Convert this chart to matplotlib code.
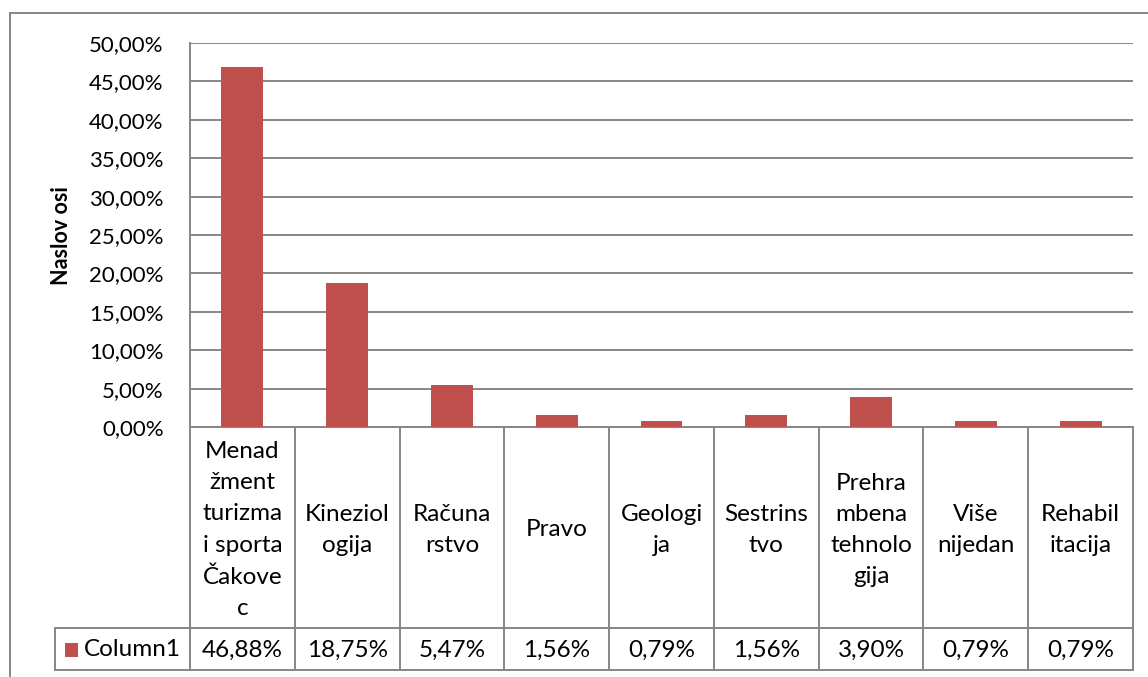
import matplotlib
matplotlib.use("Agg")
import matplotlib.pyplot as plt
from matplotlib.patches import Rectangle
from matplotlib.ticker import FuncFormatter
from matplotlib.transforms import blended_transform_factory

plt.rcParams['font.family'] = ['Lato', 'DejaVu Sans']

# data
categories = ["Menad\nžment\nturizma\ni sporta\nČakove\nc", "Kineziol\nogija", "Računa\nrstvo",
              "Pravo", "Geologi\nja", "Sestrins\ntvo", "Prehra\nmbena\ntehnolo\ngija",
              "Više\nnijedan", "Rehabil\nitacija"]
values = [46.88, 18.75, 5.47, 1.56, 0.79, 1.56, 3.90, 0.79, 0.79]
series_name = "Column1"
yticks = [0, 5, 10, 15, 20, 25, 30, 35, 40, 45, 50]

W, H = 1148, 677
bar_color = '#C0504D'
grid_color = '#868686'

def pct(v):
    return f"{v:.2f}%".replace('.', ',')

def fy(px):
    return 1 - px / H

fig = plt.figure(figsize=(W / 100, H / 100), dpi=100)
ax = fig.add_axes([190 / W, fy(427), (1133 - 190) / W, (427 - 43) / H])

x = list(range(len(values)))
ax.bar(x, values, width=0.4, color=bar_color, zorder=3)
ax.set_xlim(-0.5, len(values) - 0.5)
ax.set_ylim(0, 50)
ax.set_yticks(yticks)
ax.yaxis.set_major_formatter(FuncFormatter(lambda v, p: pct(v)))
ax.set_xticks([])
ax.tick_params(axis='y', length=0, pad=19, labelsize=16)
ax.grid(axis='y', color=grid_color, linewidth=1.4, zorder=0)
for s in ['top', 'right']:
    ax.spines[s].set_visible(False)
for s in ['left', 'bottom']:
    ax.spines[s].set_color(grid_color)
    ax.spines[s].set_linewidth(1.4)

fig.text(62 / W, fy(236), "Naslov osi", rotation=90, fontweight='bold',
         fontsize=15.5, ha='center', va='center')

# outer chart border
fig.patches.append(Rectangle((10 / W, -0.1), 1.2, fy(13) + 0.1, transform=fig.transFigure,
                             fill=False, edgecolor=grid_color, linewidth=1.4))

# data table below the axis
tr = blended_transform_factory(ax.transData, fig.transFigure)
y_top, y_mid, y_bot = fy(427), fy(628), fy(670)
for i in range(len(values) + 1):
    ax.plot([i - 0.5, i - 0.5], [y_top, y_bot], transform=tr, color=grid_color,
            linewidth=1.4, clip_on=False)
x_left = ax.transData.inverted().transform((55, 0))[0]
for yy in [y_mid, y_bot]:
    ax.plot([x_left, len(values) - 0.5], [yy, yy], transform=tr, color=grid_color,
            linewidth=1.4, clip_on=False)
ax.plot([x_left, x_left], [y_mid, y_bot], transform=tr, color=grid_color,
        linewidth=1.4, clip_on=False)

for i, (c, v) in enumerate(zip(categories, values)):
    ax.text(i, fy(530), c, transform=tr, ha='center', va='center', fontsize=17.5,
            linespacing=1.6, clip_on=False)
    ax.text(i, fy(650), pct(v), transform=tr, ha='center', va='center', fontsize=17.5,
            clip_on=False)

fig.patches.append(Rectangle((65 / W, fy(657)), 13 / W, 14 / H, transform=fig.transFigure,
                             facecolor=bar_color, edgecolor='none'))
fig.text(84 / W, fy(650), series_name, ha='left', va='center', fontsize=17.5)

fig.savefig("out.png", dpi=100)
